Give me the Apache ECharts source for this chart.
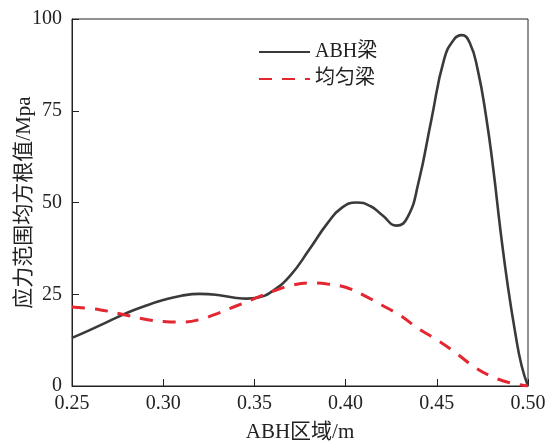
<!DOCTYPE html>
<html><head><meta charset="utf-8">
<script src="https://cdn.jsdelivr.net/npm/echarts@6/dist/echarts.min.js"></script>
<style>html,body{margin:0;padding:0;background:#fff}#c{width:549px;height:442px}</style>
</head><body><div id="c"></div>
<script>
const seriesNames = ['ABH梁', '均匀梁'];
const xTicks = [0.25, 0.30, 0.35, 0.40, 0.45, 0.50];
const yTicks = [0, 25, 50, 75, 100];
const abhX = [0.250,0.260,0.270,0.280,0.290,0.300,0.310,0.320,0.330,0.340,0.346,0.352,0.360,0.370,0.380,0.390,0.398,0.406,0.414,0.420,0.428,0.434,0.440,0.447,0.454,0.4595,0.4636,0.468,0.4725,0.477,0.481,0.485,0.489,0.493,0.4965,0.500];
const abhY = [13.1,15.3,17.6,19.9,21.8,23.4,24.6,25.1,24.8,24.0,23.8,24.1,25.9,30.3,37.1,44.3,48.6,50.0,48.9,46.6,43.7,46.0,55.5,72.5,89.0,94.5,95.6,93.6,86.0,73.5,59.0,42.0,27.0,14.5,5.5,0];
const uniX = [0.25,0.265,0.278,0.29,0.30,0.31,0.32,0.33,0.34,0.35,0.36,0.37,0.38,0.39,0.40,0.41,0.42,0.43,0.44,0.45,0.46,0.47,0.48,0.49,0.50];
const uniY = [21.5,20.8,19.5,18.2,17.6,17.4,18.1,19.8,21.8,23.8,25.8,27.4,28.1,27.8,26.9,24.7,22.0,19.2,15.6,12.6,9.2,5.4,2.6,0.9,0];

const pair = (xs, ys) => xs.map((x, i) => [x, ys[i]]);
const serif = "'Liberation Serif','Noto Sans CJK SC',serif";
const chart = echarts.init(document.getElementById('c'));
chart.setOption({
  animation: false,
  grid: {left: 72, right: 21, top: 19, bottom: 56, show: true, borderColor: '#222', borderWidth: 1,
         containLabel: false, outerBoundsMode: 'none'},
  legend: {
    orient: 'vertical', left: 253, top: 37, itemWidth: 51, itemHeight: 14, itemGap: 7,
    itemStyle: {opacity: 0},
    textStyle: {fontFamily: serif, fontSize: 20, color: '#222'},
    data: seriesNames
  },
  xAxis: {
    type: 'value', min: xTicks[0], max: xTicks[xTicks.length-1], interval: 0.05,
    name: 'ABH区域/m', nameLocation: 'middle', nameGap: 36, nameMoveOverlap: false,
    nameTextStyle: {fontFamily: serif, fontSize: 21, color: '#222'},
    axisLine: {lineStyle: {color: '#222', width: 1}},
    axisTick: {inside: true, length: 7, lineStyle: {color: '#222'}},
    axisLabel: {fontFamily: serif, fontSize: 20, color: '#222', margin: 8, formatter: v => v.toFixed(2)},
    splitLine: {show: false}
  },
  yAxis: {
    type: 'value', min: yTicks[0], max: yTicks[yTicks.length-1], interval: 25,
    name: '应力范围均方根值/Mpa', nameLocation: 'middle', nameGap: 37, nameMoveOverlap: false,
    nameTextStyle: {fontFamily: serif, fontSize: 21, color: '#222'},
    axisLine: {show: true, lineStyle: {color: '#222', width: 1}},
    axisTick: {show: true, inside: true, length: 7, lineStyle: {color: '#222'}},
    axisLabel: {fontFamily: serif, fontSize: 20, color: '#222', margin: 10},
    splitLine: {show: false}
  },
  series: [
    {name: seriesNames[0], type: 'line', data: pair(abhX, abhY), smooth: 0.5, symbol: 'none',
     lineStyle: {color: '#3a3a3a', width: 2.6}, itemStyle: {color: '#3a3a3a'}},
    {name: seriesNames[1], type: 'line', data: pair(uniX, uniY), smooth: 0.4, symbol: 'none',
     lineStyle: {color: '#e32630', width: 3, type: [13, 10]}, itemStyle: {color: '#e32630'}}
  ]
});
</script></body></html>
